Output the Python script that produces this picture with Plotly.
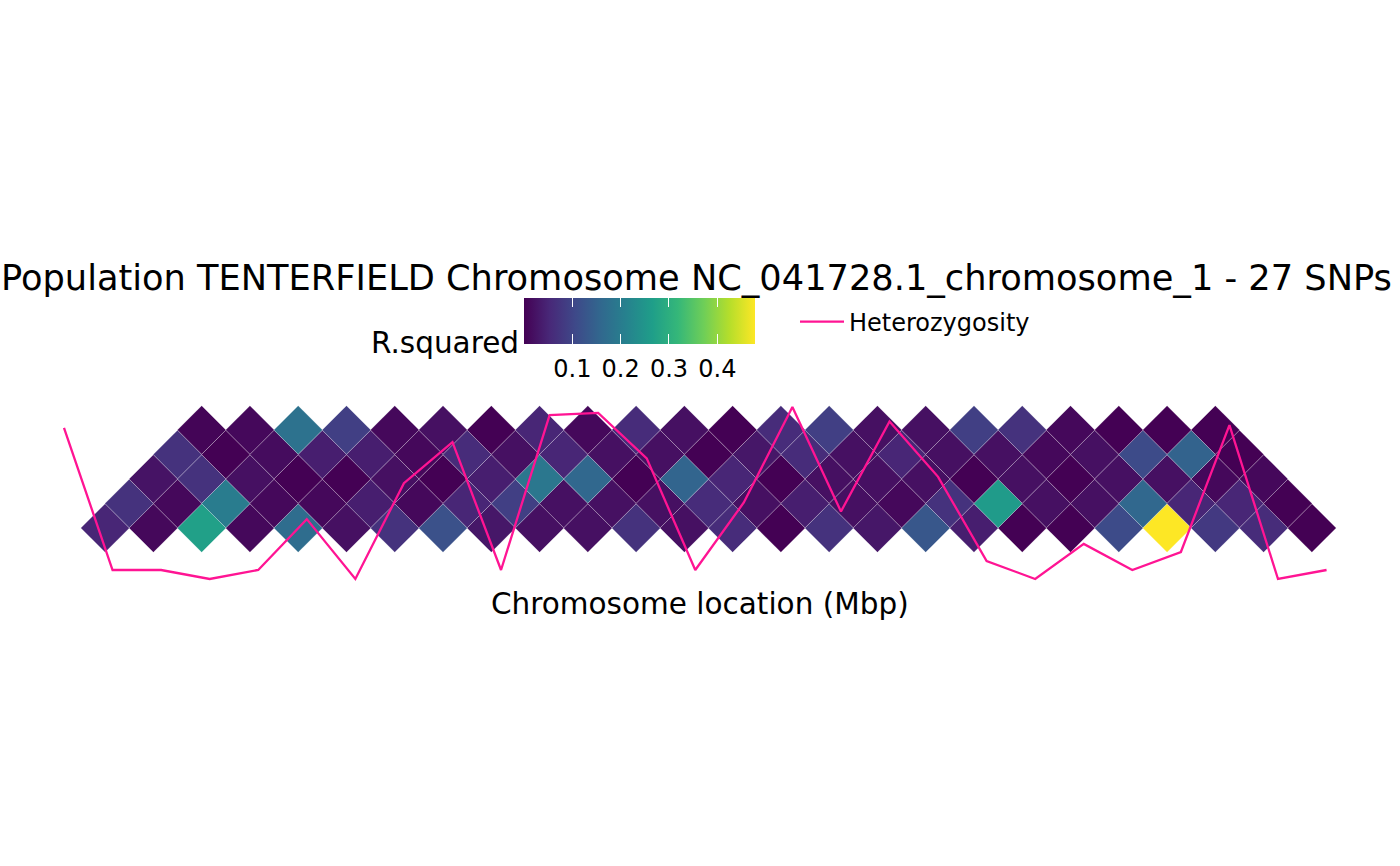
import plotly.graph_objects as go

# ---------------- data ----------------
n_snps = 27
# pairwise r^2 between SNP i and SNP i+d (d = 1..5), i = 0..n_snps-1-d
r2_d1 = [0.05, 0.01, 0.27, 0.01, 0.17, 0.02, 0.07, 0.12, 0.03, 0.02, 0.02, 0.07, 0.02,
         0.06, 0.00, 0.07, 0.03, 0.13, 0.04, 0.00, 0.00, 0.11, 0.478, 0.08, 0.06, 0.00]
r2_d2 = [0.07, 0.01, 0.20, 0.01, 0.01, 0.04, 0.01, 0.05, 0.09, 0.02, 0.02, 0.02, 0.06,
         0.02, 0.04, 0.02, 0.01, 0.07, 0.26, 0.02, 0.02, 0.16, 0.05, 0.05, 0.00]
r2_d3 = [0.025, 0.07, 0.02, 0.00, 0.00, 0.02, 0.00, 0.04, 0.19, 0.16, 0.00, 0.155,
         0.05, 0.00, 0.02, 0.02, 0.02, 0.00, 0.02, 0.00, 0.02, 0.02, 0.01, 0.01]
r2_d4 = [0.07, 0.00, 0.015, 0.04, 0.04, 0.01, 0.06, 0.02, 0.05, 0.02, 0.02, 0.00,
         0.03, 0.06, 0.02, 0.05, 0.02, 0.02, 0.01, 0.02, 0.11, 0.15, 0.00]
r2_d5 = [0.005, 0.01, 0.18, 0.09, 0.01, 0.02, 0.00, 0.05, 0.01, 0.06, 0.02, 0.00,
         0.06, 0.09, 0.02, 0.02, 0.09, 0.07, 0.01, 0.00, 0.00, 0.00]
# observed heterozygosity per SNP
heterozygosity = [0.356, 0.04, 0.04, 0.02, 0.04, 0.153, 0.02, 0.233, 0.324, 0.04,
                  0.384, 0.389, 0.288, 0.04, 0.19, 0.402, 0.17, 0.37, 0.247, 0.06,
                  0.02, 0.098, 0.04, 0.08, 0.362, 0.02, 0.04]
colorbar_ticks = [0.1, 0.2, 0.3, 0.4]
colorbar_ticktext = ["0.1", "0.2", "0.3", "0.4"]
title_text = "Population TENTERFIELD Chromosome NC_041728.1_chromosome_1 - 27 SNPs"
legend_title = "R.squared"
line_name = "Heterozygosity"
x_title = "Chromosome location (Mbp)"

# ---------------- layout constants (pixels) ----------------
W, H = 1400, 866
FONT = "DejaVu Sans"
hm_x0, hm_step = 81.0, 1255.0 / 26      # heatmap: pixel of SNP 0, pixel per SNP
hm_y1, hm_row = 528.0, 24.5             # heatmap: pixel of row d=1, pixel per row
ln_x0, ln_step = 64.0, 48.56            # heterozygosity line: pixel of SNP 0, per SNP
ln_pix0, ln_ref, ln_scale = 579.0, 0.02, 450.0  # pixel of ref value, px per unit
cb_left, cb_right, cb_top, cb_bottom = 524.0, 755.0, 298.0, 344.0
cb_thick = cb_bottom - cb_top
tick_len = 0.2 * cb_thick

rows = [r2_d1, r2_d2, r2_d3, r2_d4, r2_d5]
cx, cy, cv = [], [], []
for d, row in enumerate(rows, start=1):
    for i, v in enumerate(row):
        cx.append(i + d / 2.0)
        cy.append(d)
        cv.append(v)
cmin, cmax = min(cv), max(cv)

snp_idx = list(range(n_snps))


def colorbar_base(top_px, thickness):
    return dict(
        orientation="h", x=(cb_left + cb_right) / 2 / W, xanchor="center",
        y=1 - top_px / H, yanchor="top", len=(cb_right - cb_left) / W,
        lenmode="fraction", thickness=thickness, thicknessmode="pixels",
        xpad=0, ypad=0, outlinewidth=0, tickvals=colorbar_ticks,
    )


fig = go.Figure()
cb_main = colorbar_base(cb_top, cb_thick)
cb_main.update(ticktext=colorbar_ticktext, ticks="outside", ticklen=5, tickwidth=1,
               tickcolor="rgba(0,0,0,0)",
               tickfont=dict(family=FONT, size=24, color="black"))
fig.add_trace(go.Scatter(
    x=cx, y=cy, mode="markers", showlegend=False, hoverinfo="skip",
    marker=dict(
        symbol="diamond", size=37.4,
        color=cv, colorscale="Viridis", cmin=cmin, cmax=cmax,
        line=dict(width=0.6, color="rgba(255,255,255,0.35)"),
        colorbar=cb_main,
    ),
    xaxis="x", yaxis="y",
))

# transparent overlay colour bars that only draw the white tick marks
# inside the bar, at its bottom edge and at its top edge
clear = [[0, "rgba(0,0,0,0)"], [1, "rgba(0,0,0,0)"]]
for top_px, thick in [(cb_top, cb_thick), (cb_top, tick_len)]:
    cb_t = colorbar_base(top_px, thick)
    cb_t.update(ticks="inside", ticklen=tick_len, tickwidth=1,
                tickcolor="white", showticklabels=False)
    fig.add_trace(go.Scatter(
        x=[None], y=[None], mode="markers", showlegend=False, hoverinfo="skip",
        marker=dict(color=[cmin], colorscale=clear, cmin=cmin, cmax=cmax,
                    showscale=True, colorbar=cb_t),
        xaxis="x", yaxis="y",
    ))

fig.add_trace(go.Scatter(
    x=snp_idx, y=heterozygosity, mode="lines", name=line_name,
    line=dict(color="#FF1493", width=2.3), hoverinfo="skip",
    xaxis="x2", yaxis="y2", showlegend=True,
))

hidden = dict(visible=False, showgrid=False, zeroline=False, fixedrange=True)
fig.update_layout(
    width=W, height=H, autosize=False,
    margin=dict(l=0, r=0, t=0, b=0, pad=0),
    paper_bgcolor="white", plot_bgcolor="white",
    font=dict(family=FONT, color="black"),
    xaxis=dict(range=[-hm_x0 / hm_step, (W - hm_x0) / hm_step], domain=[0, 1], **hidden),
    yaxis=dict(range=[1 + (hm_y1 - H) / hm_row, 1 + hm_y1 / hm_row], domain=[0, 1], **hidden),
    xaxis2=dict(range=[-ln_x0 / ln_step, (W - ln_x0) / ln_step], overlaying="x",
                anchor="y2", **hidden),
    yaxis2=dict(range=[ln_ref + (ln_pix0 - H) / ln_scale, ln_ref + ln_pix0 / ln_scale],
                overlaying="y", anchor="x2", **hidden),
    showlegend=True,
    legend=dict(x=795 / W, xanchor="left", y=1 - 322 / H, yanchor="middle",
                orientation="h", bgcolor="rgba(0,0,0,0)", borderwidth=0,
                itemwidth=44,
                font=dict(family=FONT, size=24, color="black")),
    annotations=[
        dict(text=title_text, x=696 / W, y=1 - 277 / H, xref="paper", yref="paper",
             xanchor="center", yanchor="middle", showarrow=False,
             font=dict(family=FONT, size=35.2, color="black")),
        dict(text=legend_title, x=521 / W, y=1 - 343 / H, xref="paper", yref="paper",
             xanchor="right", yanchor="middle", showarrow=False,
             font=dict(family=FONT, size=29.5, color="black")),
        dict(text=x_title, x=699.5 / W, y=1 - 604 / H, xref="paper", yref="paper",
             xanchor="center", yanchor="middle", showarrow=False,
             font=dict(family=FONT, size=29.5, color="black")),
    ],
)
fig.write_html("out.html")
